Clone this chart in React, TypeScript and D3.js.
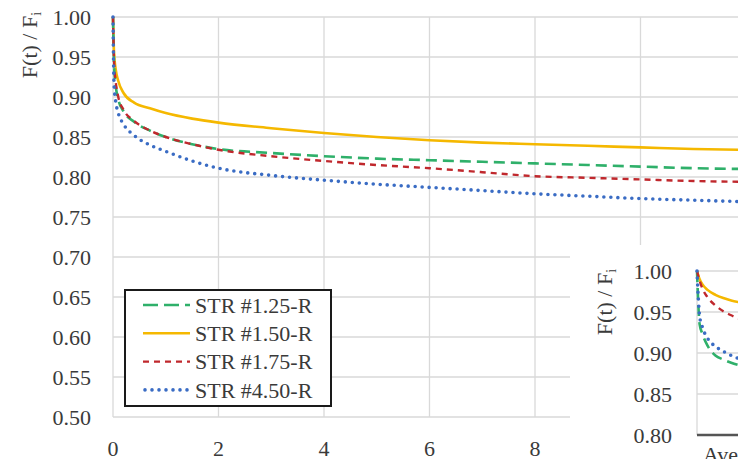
import React from "react";
import * as d3 from "d3";

const T_MAIN = [0, 0.02, 0.05, 0.1, 0.2, 0.4, 0.7, 1, 1.5, 2, 3, 4, 5, 6, 7, 8, 9, 10, 11, 12];
const STR125 = [1.0, 0.94, 0.915, 0.897, 0.882, 0.869, 0.858, 0.85, 0.841, 0.835, 0.83, 0.826, 0.823, 0.821, 0.819, 0.817, 0.815, 0.813, 0.811, 0.81];
const STR150 = [1.0, 0.955, 0.935, 0.92, 0.905, 0.893, 0.886, 0.88, 0.873, 0.868, 0.861, 0.855, 0.85, 0.846, 0.843, 0.841, 0.839, 0.837, 0.835, 0.834];
const STR175 = [1.0, 0.945, 0.92, 0.9, 0.884, 0.87, 0.858, 0.85, 0.841, 0.834, 0.826, 0.82, 0.815, 0.811, 0.806, 0.801, 0.799, 0.797, 0.795, 0.794];
const STR450 = [1.0, 0.915, 0.895, 0.88, 0.866, 0.852, 0.84, 0.832, 0.82, 0.811, 0.802, 0.796, 0.791, 0.787, 0.783, 0.779, 0.776, 0.773, 0.771, 0.769];

const T_INSET = [0, 0.01, 0.02, 0.04, 0.07, 0.1, 0.13, 0.16];
const IN125 = [1.0, 0.935, 0.924, 0.909, 0.897, 0.892, 0.888, 0.885];
const IN150 = [1.0, 0.99, 0.984, 0.977, 0.971, 0.967, 0.964, 0.962];
const IN175 = [1.0, 0.988, 0.979, 0.968, 0.958, 0.951, 0.946, 0.942];
const IN450 = [1.0, 0.945, 0.932, 0.918, 0.908, 0.902, 0.897, 0.893];

const SERIES_NAMES = ["STR #1.25-R", "STR #1.50-R", "STR #1.75-R", "STR #4.50-R"];
const X_TICKS = [0, 2, 4, 6, 8, 10, 12];
const X_TICK_LABELS = [0, 2, 4, 6, 8];
const Y_TICKS = [0.5, 0.55, 0.6, 0.65, 0.7, 0.75, 0.8, 0.85, 0.9, 0.95, 1.0];
const INSET_Y_TICKS = [0.8, 0.85, 0.9, 0.95, 1.0];

const STYLES = [
  { color: "#2fb06a", dash: "11 6", cap: "butt", width: 2.6 },
  { color: "#f5b800", dash: "", cap: "butt", width: 2.6 },
  { color: "#c0282d", dash: "6 5", cap: "butt", width: 2.4 },
  { color: "#3a6cc4", dash: "0 7", cap: "round", width: 3.6 },
];

const FONT = "'Liberation Serif', 'Times New Roman', 'DejaVu Serif', serif";
const TEXT = "#3a3a3a";
const GRID = "#d9d9d9";
const TS: React.CSSProperties = { fontFamily: FONT };

export default function App() {
  const W = 738, H = 459;
  const x = d3.scaleLinear().domain([0, 12]).range([113, 746]);
  const y = d3.scaleLinear().domain([0.5, 1.0]).range([417, 17]);

  const ix = d3.scaleLinear().domain([0, 1]).range([697, 960]);
  const iy = d3.scaleLinear().domain([0.8, 1.0]).range([435, 271]);

  const mainData = [STR125, STR150, STR175, STR450];
  const insetData = [IN125, IN150, IN175, IN450];

  const line = d3
    .line<[number, number]>()
    .x((d) => x(d[0]))
    .y((d) => y(d[1]))
    .curve(d3.curveMonotoneX);
  const iline = d3
    .line<[number, number]>()
    .x((d) => ix(d[0]))
    .y((d) => iy(d[1]))
    .curve(d3.curveMonotoneX);

  const drawOrder = [1, 0, 2, 3];

  return (
    <svg
      width={W}
      height={H}
      viewBox={`0 0 ${W} ${H}`}
      style={{ position: "absolute", left: 0, top: 0, background: "#fff", fontFamily: FONT }}
    >
      <defs>
        <clipPath id="mainclip">
          <rect x={x(0) - 3} y={y(1.0) - 3} width={W} height={y(0.5) - y(1.0) + 6} />
        </clipPath>
        <clipPath id="insetclip">
          <rect x={ix(0) - 3} y={iy(1.0) - 3} width={W} height={iy(0.8) - iy(1.0) + 3} />
        </clipPath>
      </defs>
      <rect x={0} y={0} width={W} height={H} fill="#fff" />
      {/* main grid */}
      {Y_TICKS.map((t) => (
        <line key={"gy" + t} x1={x(0)} x2={W} y1={y(t)} y2={y(t)} stroke={GRID} strokeWidth={1.3} />
      ))}
      {X_TICKS.map((t) => (
        <line key={"gx" + t} x1={x(t)} x2={x(t)} y1={y(1.0)} y2={y(0.5)} stroke={GRID} strokeWidth={1.3} />
      ))}
      {/* main tick labels */}
      {Y_TICKS.map((t) => (
        <text key={"ly" + t} x={91} y={y(t)} dy="0.35em" textAnchor="end" fontSize={22} fill={TEXT} style={TS}>
          {t.toFixed(2)}
        </text>
      ))}
      {X_TICK_LABELS.map((t) => (
        <text key={"lx" + t} x={x(t)} y={448} dy="0.35em" textAnchor="middle" fontSize={22} fill={TEXT} style={TS}>
          {t}
        </text>
      ))}
      <text transform={`translate(37,45) rotate(-90)`} textAnchor="middle" fontSize={22} fill={TEXT} style={TS}>
        F(t) / F<tspan fontSize={14} dy={4}>i</tspan>
      </text>
      {/* main curves */}
      <g clipPath="url(#mainclip)">
        {drawOrder.map((i) => (
          <path
            key={"m" + i}
            d={line(T_MAIN.map((t, k) => [t, mainData[i][k]]) as [number, number][]) || ""}
            fill="none"
            stroke={STYLES[i].color}
            strokeWidth={STYLES[i].width}
            strokeDasharray={STYLES[i].dash}
            strokeLinecap={STYLES[i].cap as any}
          />
        ))}
      </g>
      {/* legend */}
      <rect x={125} y={290} width={206} height={116} fill="#fff" stroke="#1a1a1a" strokeWidth={2} />
      {SERIES_NAMES.map((name, i) => {
        const ly = 305 + i * 28.3;
        return (
          <g key={"lg" + i}>
            <line
              x1={i === 3 ? 145 : 143}
              x2={190}
              y1={ly}
              y2={ly}
              stroke={STYLES[i].color}
              strokeWidth={STYLES[i].width}
              strokeDasharray={i === 0 ? "15 6" : STYLES[i].dash}
              strokeLinecap={STYLES[i].cap as any}
            />
            <text x={195} y={ly} dy="0.35em" fontSize={22} fill={TEXT} style={TS}>
              {name}
            </text>
          </g>
        );
      })}
      {/* inset */}
      <rect x={570} y={245} width={W - 570} height={H - 245} fill="#fff" />
      {INSET_Y_TICKS.filter((t) => t > 0.8).map((t) => (
        <line key={"igy" + t} x1={ix(0)} x2={W} y1={iy(t)} y2={iy(t)} stroke={GRID} strokeWidth={1.3} />
      ))}
      <line x1={ix(0)} x2={ix(0)} y1={iy(1.0)} y2={iy(0.8)} stroke={GRID} strokeWidth={1.3} />
      {INSET_Y_TICKS.map((t) => (
        <text key={"ily" + t} x={672} y={iy(t)} dy="0.35em" textAnchor="end" fontSize={22} fill={TEXT} style={TS}>
          {t.toFixed(2)}
        </text>
      ))}
      <text transform={`translate(612,302) rotate(-90)`} textAnchor="middle" fontSize={22} fill={TEXT} style={TS}>
        F(t) / F<tspan fontSize={14} dy={4}>i</tspan>
      </text>
      <g clipPath="url(#insetclip)">
        {drawOrder.map((i) => (
          <path
            key={"in" + i}
            d={iline(T_INSET.map((t, k) => [t, insetData[i][k]]) as [number, number][]) || ""}
            fill="none"
            stroke={STYLES[i].color}
            strokeWidth={STYLES[i].width}
            strokeDasharray={STYLES[i].dash}
            strokeLinecap={STYLES[i].cap as any}
          />
        ))}
      </g>
      <line x1={ix(0)} x2={W} y1={iy(0.8)} y2={iy(0.8)} stroke="#555" strokeWidth={2.5} />
      <text x={703} y={462} fontSize={22} fill={TEXT} style={TS}>
        Average
      </text>
    </svg>
  );
}
